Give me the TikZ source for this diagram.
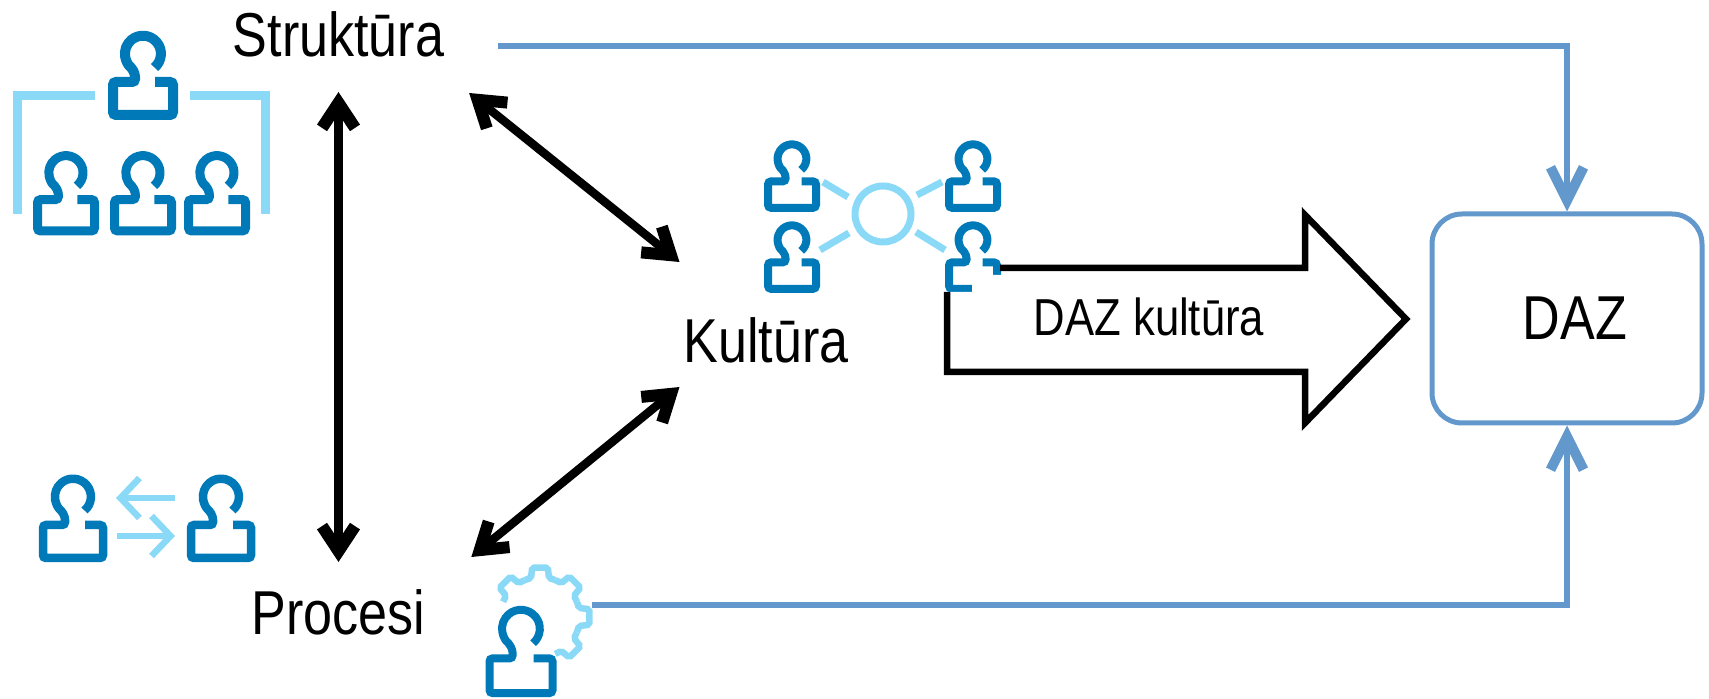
\documentclass[tikz,border=0pt]{standalone}
\usepackage{fontspec}
\setmainfont[FakeStretch=0.84]{Liberation Sans}
\usetikzlibrary{arrows.meta}
\definecolor{persondark}{HTML}{0079B8}
\definecolor{iconlight}{HTML}{8ADAF7}
\definecolor{linkblue}{HTML}{6298CB}
\tikzset{
  lbl/.style = {inner sep=0pt, outer sep=0pt, text height=44pt, text depth=0pt,
                font=\fontsize{62}{62}\selectfont},
  twoway/.style = {black, line width=8.5, {Straight Barb[length=25pt,width=33pt,line width=12pt]}-{Straight Barb[length=25pt,width=33pt,line width=12pt]}},
  feed/.style = {color=linkblue, line width=5.5, -{Straight Barb[length=33pt,width=33pt,line width=10pt]}},
  light/.style = {color=iconlight, line width=#1},
  light/.default = 9,
  person/.pic = {
    \draw[color=persondark, pic actions, rounded corners=3pt]
      (11.5,-13.5) arc[start angle=-50, end angle=230, radius=18pt]
      -- (-8,-20) -- (-8,-28) -- (-30,-28) -- (-30,-61) -- (30,-61) -- (30,-28) -- (12,-28);
  }
}

\begin{document}
\begin{tikzpicture}[x=1pt,y=1pt]
	\def \gearin{40}
	\def \gearout{50}

	\useasboundingbox (0,0) rectangle (1709,699);

	% Structure icon
	\draw[light] (17,485) -- (17,603) -- (95,603);
	\draw[light] (190,603) -- (265,603) -- (265,485);
	\pic[line width=10] at (143,645) {person};
	\pic[scale=0.95, line width=9] at (66,526) {person};
	\pic[scale=0.95, line width=9] at (143,526) {person};
	\pic[scale=0.95, line width=9] at (217,526) {person};

	% Culture icon
	\draw[light=7] (883,485) circle (28);
	\draw[light=7] (823,517) -- (848,502);
	\draw[light=7] (942,517) -- (917,504);
	\draw[light=7] (820,449) -- (849,466);
	\draw[light=7] (916,467) -- (945,449);
	\pic[scale=0.8, line width=8] at (792,540) {person};
	\pic[scale=0.8, line width=8] at (973,540) {person};
	\pic[scale=0.8, line width=8] at (792,459) {person};
	\pic[scale=0.8, line width=8] at (973,459) {person};

	% Process icon
	\pic[line width=8.5] at (73,202) {person};
	\pic[line width=8.5] at (221,202) {person};
	\draw[light=6.5, -{Straight Barb[length=19pt,width=40pt]}] (175,201) -- (116,201);
	\draw[light=6.5, -{Straight Barb[length=19pt,width=40pt]}] (117,163) -- (175,163);

	% Gear
	\foreach \a in {135,90,45,0,-45}
		\draw[light=6.5, rounded corners=2pt, shift={(540,82)}]
			(\a+22.5:\gearin) -- (\a+13:\gearin) -- (\a+9:\gearout) -- (\a-9:\gearout) -- (\a-13:\gearin) -- (\a-22.5:\gearin);
	\pic[scale=1.05, line width=8] at (521,70) {person};
	\coordinate (gearOut) at (592,94);

	% Labels
	\node[lbl, anchor=base] (struktura) at (338.5,642) {Struktūra};
	\node[lbl, anchor=base] (kultura) at (766,336) {Kultūra};
	\node[lbl, anchor=base] (procesi) at (338.5,64) {Procesi};

	% Box
	\node[draw=linkblue, line width=5, rounded corners=30pt, minimum width=270, minimum height=209] (dazbox) at (1567,380.5) {};
	\node[lbl, anchor=base] (daz) at (1575,359) {DAZ};

	% Big arrow
	\fill[white] (972,431) -- (988,431) -- (988,424) -- (1003,424) -- (1003,431) -- (1305,431) -- (1305,484) -- (1406,380) -- (1305,276) -- (1305,327) -- (947,327) -- (947,407) -- (972,407) -- cycle;
	\draw[black, line width=6.5] (1000,431) -- (1305,431) -- (1305,484) -- (1406,380) -- (1305,276) -- (1305,327) -- (947,327) -- (947,407);
	\node[lbl, anchor=base, text height=38pt, font=\fontsize{52}{52}\selectfont] (dazkultura) at (1149,363) {DAZ kultūra};

	% Links between the three
	\draw[twoway] ([yshift=-35pt]struktura.south) -- ([yshift=29pt]procesi.north);
	\draw[twoway] ([shift={(25,-36)}]struktura.south east) -- ([shift={(-4,57)}]kultura.north west);
	\draw[twoway] ([shift={(-4,-24)}]kultura.south west) -- ([shift={(46,34)}]procesi.north east);

	% Links to the box
	\draw[feed] ([shift={(54,11)}]struktura.south east) -| (dazbox.north);
	\draw[feed] (gearOut) -| (dazbox.south);
\end{tikzpicture}
\end{document}
